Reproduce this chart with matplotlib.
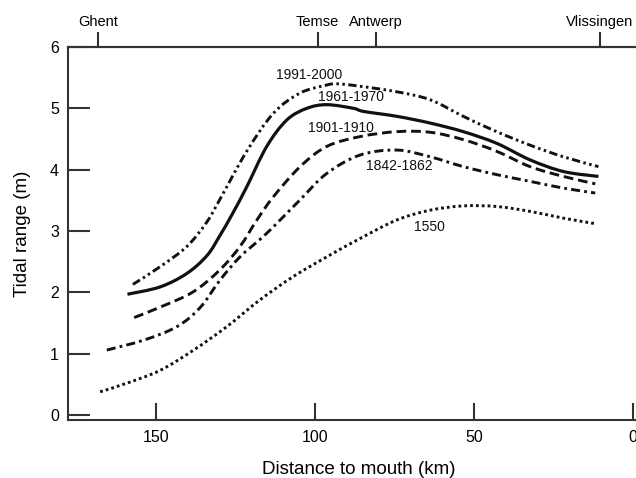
import matplotlib
matplotlib.use("Agg")
import matplotlib.pyplot as plt
from matplotlib.path import Path
from matplotlib.patches import PathPatch
import numpy as np

plt.rcParams['font.family'] = ['Liberation Sans', 'DejaVu Sans']
plt.rcParams['lines.scale_dashes'] = False

# ---- data (distance to mouth in km, tidal range in m) ----
d_1991 = [157.3, 148.7, 140.3, 134.0, 129.9, 121.5, 113.1, 104.7, 96.3, 93.0, 85.8, 74.3, 63.8, 53.4, 42.9, 32.4, 21.9, 10.9]
v_1991 = [2.13, 2.42, 2.75, 3.15, 3.52, 4.30, 4.92, 5.25, 5.38, 5.40, 5.36, 5.27, 5.14, 4.87, 4.62, 4.40, 4.21, 4.05]

d_1961 = [159.0, 148.7, 140.3, 134.0, 130.0, 126.0, 121.5, 115.2, 108.9, 102.6, 96.3, 87.9, 84.8, 74.3, 63.8, 53.4, 42.9, 32.4, 21.9, 10.9]
v_1961 = [1.97, 2.09, 2.31, 2.60, 2.92, 3.28, 3.72, 4.38, 4.81, 5.00, 5.06, 5.00, 4.95, 4.87, 4.76, 4.62, 4.43, 4.16, 3.97, 3.89]

d_1901 = [156.9, 148.7, 138.3, 129.9, 123.6, 118.3, 113.1, 104.7, 96.3, 85.8, 74.3, 63.8, 53.4, 42.9, 32.4, 21.9, 11.9]
v_1901 = [1.59, 1.76, 2.01, 2.37, 2.75, 3.18, 3.56, 4.05, 4.38, 4.54, 4.62, 4.61, 4.49, 4.30, 4.05, 3.89, 3.77]

d_1842 = [165.5, 154.0, 143.5, 136.2, 129.9, 123.6, 116.3, 111.0, 104.7, 96.3, 85.8, 74.3, 63.8, 53.4, 42.9, 32.4, 21.9, 11.9]
v_1842 = [1.06, 1.22, 1.44, 1.75, 2.20, 2.58, 2.91, 3.18, 3.51, 3.94, 4.24, 4.32, 4.21, 4.05, 3.92, 3.81, 3.70, 3.62]

d_1550 = [167.6, 159.2, 148.7, 138.2, 127.8, 117.3, 106.8, 96.3, 85.8, 74.3, 63.8, 53.4, 42.9, 32.4, 21.9, 11.9]
v_1550 = [0.38, 0.52, 0.73, 1.06, 1.44, 1.88, 2.26, 2.58, 2.88, 3.18, 3.34, 3.41, 3.40, 3.32, 3.21, 3.12]

series_labels = ["1991-2000", "1961-1970", "1901-1910", "1842-1862", "1550"]
label_pos_d = [102.0, 88.8, 92.0, 73.5, 64.0]
label_pos_v = [5.54, 5.18, 4.68, 4.06, 3.07]

places = ["Ghent", "Temse", "Antwerp", "Vlissingen"]
place_d = [168.2, 99.2, 81.0, 10.4]

x_ticks = [150, 100, 50, 0]
y_ticks = [0, 1, 2, 3, 4, 5, 6]

# ---- figure ----
W, H = 636, 478
fig = plt.figure(figsize=(W / 100, H / 100), dpi=100)
left, right, top, bottom = 68, 649, 47, 420
ax = fig.add_axes([left / W, 1 - bottom / H, (right - left) / W, (bottom - top) / H])
ax.set_xlim(177.7, -5)
ax.set_ylim(-0.08, 6)

ink = '#111111'


def smooth_curve(ax, xs, ys, **kw):
    """Draw a smooth Catmull-Rom (Bezier) path through the data points."""
    p = np.column_stack([xs, ys]).astype(float)
    n = len(p)
    verts = [p[0]]
    codes = [Path.MOVETO]
    for i in range(n - 1):
        p0 = p[i - 1] if i > 0 else p[i]
        p1, p2 = p[i], p[i + 1]
        p3 = p[i + 2] if i + 2 < n else p[i + 1]
        c1 = p1 + (p2 - p0) / 6.0
        c2 = p2 - (p3 - p1) / 6.0
        verts += [c1, c2, p2]
        codes += [Path.CURVE4] * 3
    patch = PathPatch(Path(verts, codes), facecolor='none', edgecolor=ink,
                      capstyle='butt', **kw)
    ax.add_patch(patch)


smooth_curve(ax, d_1991, v_1991, lw=2.1, linestyle=(0, (6, 2.5, 1.8, 2.5, 1.8, 2.5)))
smooth_curve(ax, d_1961, v_1961, lw=2.3, linestyle='-')
smooth_curve(ax, d_1901, v_1901, lw=2.1, linestyle=(0, (7, 3.5)))
smooth_curve(ax, d_1842, v_1842, lw=2.1, linestyle=(0, (6.5, 3, 2, 3)))
smooth_curve(ax, d_1550, v_1550, lw=2.1, linestyle=(0, (2, 2.2)))

for lab, dx, vy in zip(series_labels, label_pos_d, label_pos_v):
    ax.text(dx, vy, lab, fontsize=10, ha='center', va='center', color=ink)

spine_c = '#333333'
for s in ['left', 'bottom', 'top']:
    ax.spines[s].set_color(spine_c)
    ax.spines[s].set_linewidth(1.5)
ax.spines['right'].set_visible(False)

ax.set_xticks(x_ticks)
ax.set_xticklabels([str(t) for t in x_ticks])
ax.set_yticks(y_ticks)
ax.set_yticklabels([str(t) for t in y_ticks])
ax.tick_params(axis='x', direction='in', length=12, width=1.5, color=spine_c,
               labelsize=11.5, pad=7)
ax.tick_params(axis='y', direction='in', length=16, width=1.5, color=spine_c,
               labelsize=11.5, pad=6.5)

ax.set_xlabel("Distance to mouth (km)", fontsize=13.5, labelpad=11.5)
ax.set_ylabel("Tidal range (m)", fontsize=13.5, labelpad=14)

sec = ax.secondary_xaxis('top')
sec.set_xticks(place_d)
sec.set_xticklabels(places)
sec.tick_params(direction='out', length=11, width=1.5, color=spine_c, labelsize=10.5, pad=2)
sec.spines['top'].set_color(spine_c)
sec.spines['top'].set_linewidth(1.5)

fig.savefig("out.png", dpi=100)
